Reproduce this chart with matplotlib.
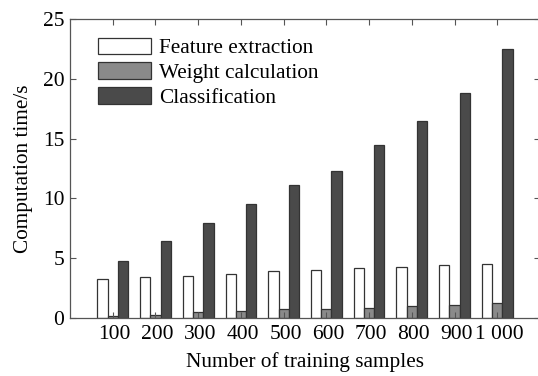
import matplotlib
matplotlib.use("Agg")
import matplotlib.pyplot as plt
import matplotlib.transforms as mtransforms
import numpy as np

categories = ["100", "200", "300", "400", "500", "600", "700", "800", "900", "1 000"]
feature_extraction = [3.3, 3.45, 3.55, 3.7, 3.93, 4.0, 4.18, 4.24, 4.45, 4.52]
weight_calculation = [0.2, 0.25, 0.48, 0.55, 0.72, 0.72, 0.83, 1.0, 1.05, 1.22]
classification = [4.75, 6.45, 7.97, 9.5, 11.1, 12.3, 14.45, 16.45, 18.85, 22.45]
series_names = ["Feature extraction", "Weight calculation", "Classification"]
colors = ["#ffffff", "#8a8a8a", "#4a4a4a"]

plt.rcParams['font.family'] = ['Liberation Serif', 'DejaVu Serif']

fig = plt.figure(figsize=(5.38, 3.76), dpi=100)
ax = fig.add_axes([70/538, 1-318/376, 470/538, 299/376])

x = np.arange(1, len(categories) + 1)
w = 0.24
for i, (vals, name, c) in enumerate(zip([feature_extraction, weight_calculation, classification], series_names, colors)):
    ax.bar(x + (i - 1) * w, vals, width=w, color=c, edgecolor="#333333", linewidth=0.9, label=name)

ax.set_xlim(0, 11)
ax.set_ylim(0, 25)
ax.set_xticks(x)
ax.set_xticklabels(categories)
ax.set_yticks([0, 5, 10, 15, 20, 25])
ax.tick_params(direction="in", top=True, right=True, length=4, width=0.8, color="#555555", labelsize=15.5)
ax.tick_params(axis="y", pad=4)
ax.tick_params(axis="x", pad=5)
shift = mtransforms.ScaledTranslation(2/100, 0, fig.dpi_scale_trans)
for lbl in ax.get_xticklabels():
    lbl.set_transform(lbl.get_transform() + shift)
for s in ax.spines.values():
    s.set_color("#555555")
    s.set_linewidth(0.9)

ax.set_xlabel("Number of training samples", fontsize=15.3, labelpad=6)
ax.set_ylabel("Computation time/s", fontsize=15.3, labelpad=7)

leg = ax.legend(loc="upper left", bbox_to_anchor=(0.06, 0.938), frameon=False, fontsize=15.3,
                handlelength=2.5, handleheight=0.85, handletextpad=0.35, labelspacing=0.18, borderaxespad=0,
                borderpad=0)

fig.savefig("out.png", dpi=100)
